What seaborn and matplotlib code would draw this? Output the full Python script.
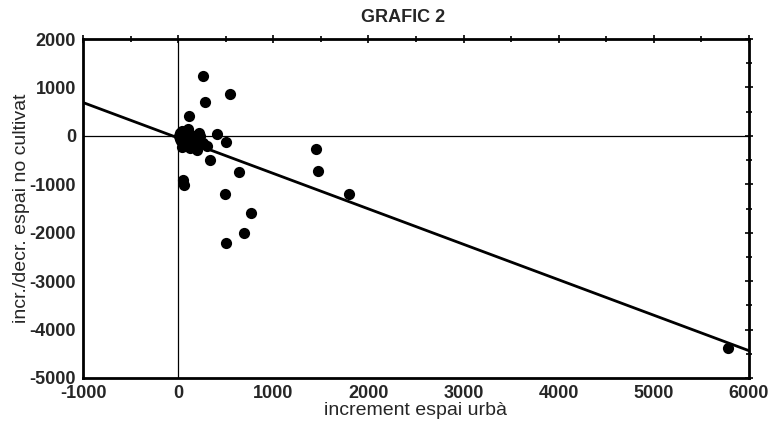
import pandas as pd
import matplotlib
matplotlib.use("Agg")
import matplotlib.pyplot as plt
import seaborn as sns
from matplotlib.ticker import MultipleLocator

# increment espai urbà vs incr./decr. espai no cultivat
urba = [260, 277, 550, 119, 407, 505, 336, 1451, 1472, 1801, 638, 56, 60, 497, 764, 691, 508, 5776,
        10, 20, 30, 40, 50, 70, 90, 100, 120, 150, 180, 200, 230, 260, 300, 130, 80, 160, 220, 15, 45]
no_cultivat = [1244, 698, 857, 403, 31, -128, -492, -264, -727, -1194, -748, -920, -1020, -1194, -1587, -2008, -2221, -4376,
               0, 50, -100, 100, -150, 30, -200, 150, -250, -50, -100, -300, 0, -150, -200, 20, -80, -230, 60, -60, -220]

df = pd.DataFrame({"urba": urba, "no_cultivat": no_cultivat})

sns.set_style("white")
plt.rcParams["font.family"] = ["Liberation Sans", "DejaVu Sans"]
plt.rcParams["axes.unicode_minus"] = False
narrow = ["Liberation Sans Narrow", "Liberation Sans", "DejaVu Sans"]

fig = plt.figure(figsize=(7.78, 4.29), dpi=100)
ax = fig.add_axes([0.1067, 0.1189, 0.856, 0.790])
ax.set_xlim(-1000, 6000)
ax.set_ylim(-5000, 2000)

ax.axhline(0, color="black", linewidth=0.9, zorder=1)
ax.axvline(0, color="black", linewidth=0.9, zorder=1)

sns.regplot(
    data=df,
    x="urba",
    y="no_cultivat",
    ax=ax,
    ci=None,
    truncate=False,
    color="black",
    scatter_kws={"s": 65, "alpha": 1, "linewidths": 0},
    line_kws={"linewidth": 2.0},
)

ax.set_xlim(-1000, 6000)
ax.set_ylim(-5000, 2000)
ax.xaxis.set_major_locator(MultipleLocator(1000))
ax.xaxis.set_minor_locator(MultipleLocator(500))
ax.yaxis.set_major_locator(MultipleLocator(1000))
ax.yaxis.set_minor_locator(MultipleLocator(500))
ax.tick_params(which="both", direction="inout", top=True, right=True,
               color="black", width=1.2)
ax.tick_params(which="major", length=6, labelsize=13, pad=2)
ax.tick_params(which="minor", length=4)
for lab in ax.get_xticklabels() + ax.get_yticklabels():
    lab.set_fontweight("bold")

for sp in ax.spines.values():
    sp.set_color("black")
    sp.set_linewidth(2.0)

ax.set_title("GRAFIC 2", fontsize=13, fontweight="bold", x=0.48, pad=12)
ax.set_xlabel("increment espai urbà", fontsize=14, family=narrow, labelpad=0)
ax.set_ylabel("incr./decr. espai no cultivat", fontsize=14, family=narrow, labelpad=0)

fig.savefig("out.png", dpi=100)
